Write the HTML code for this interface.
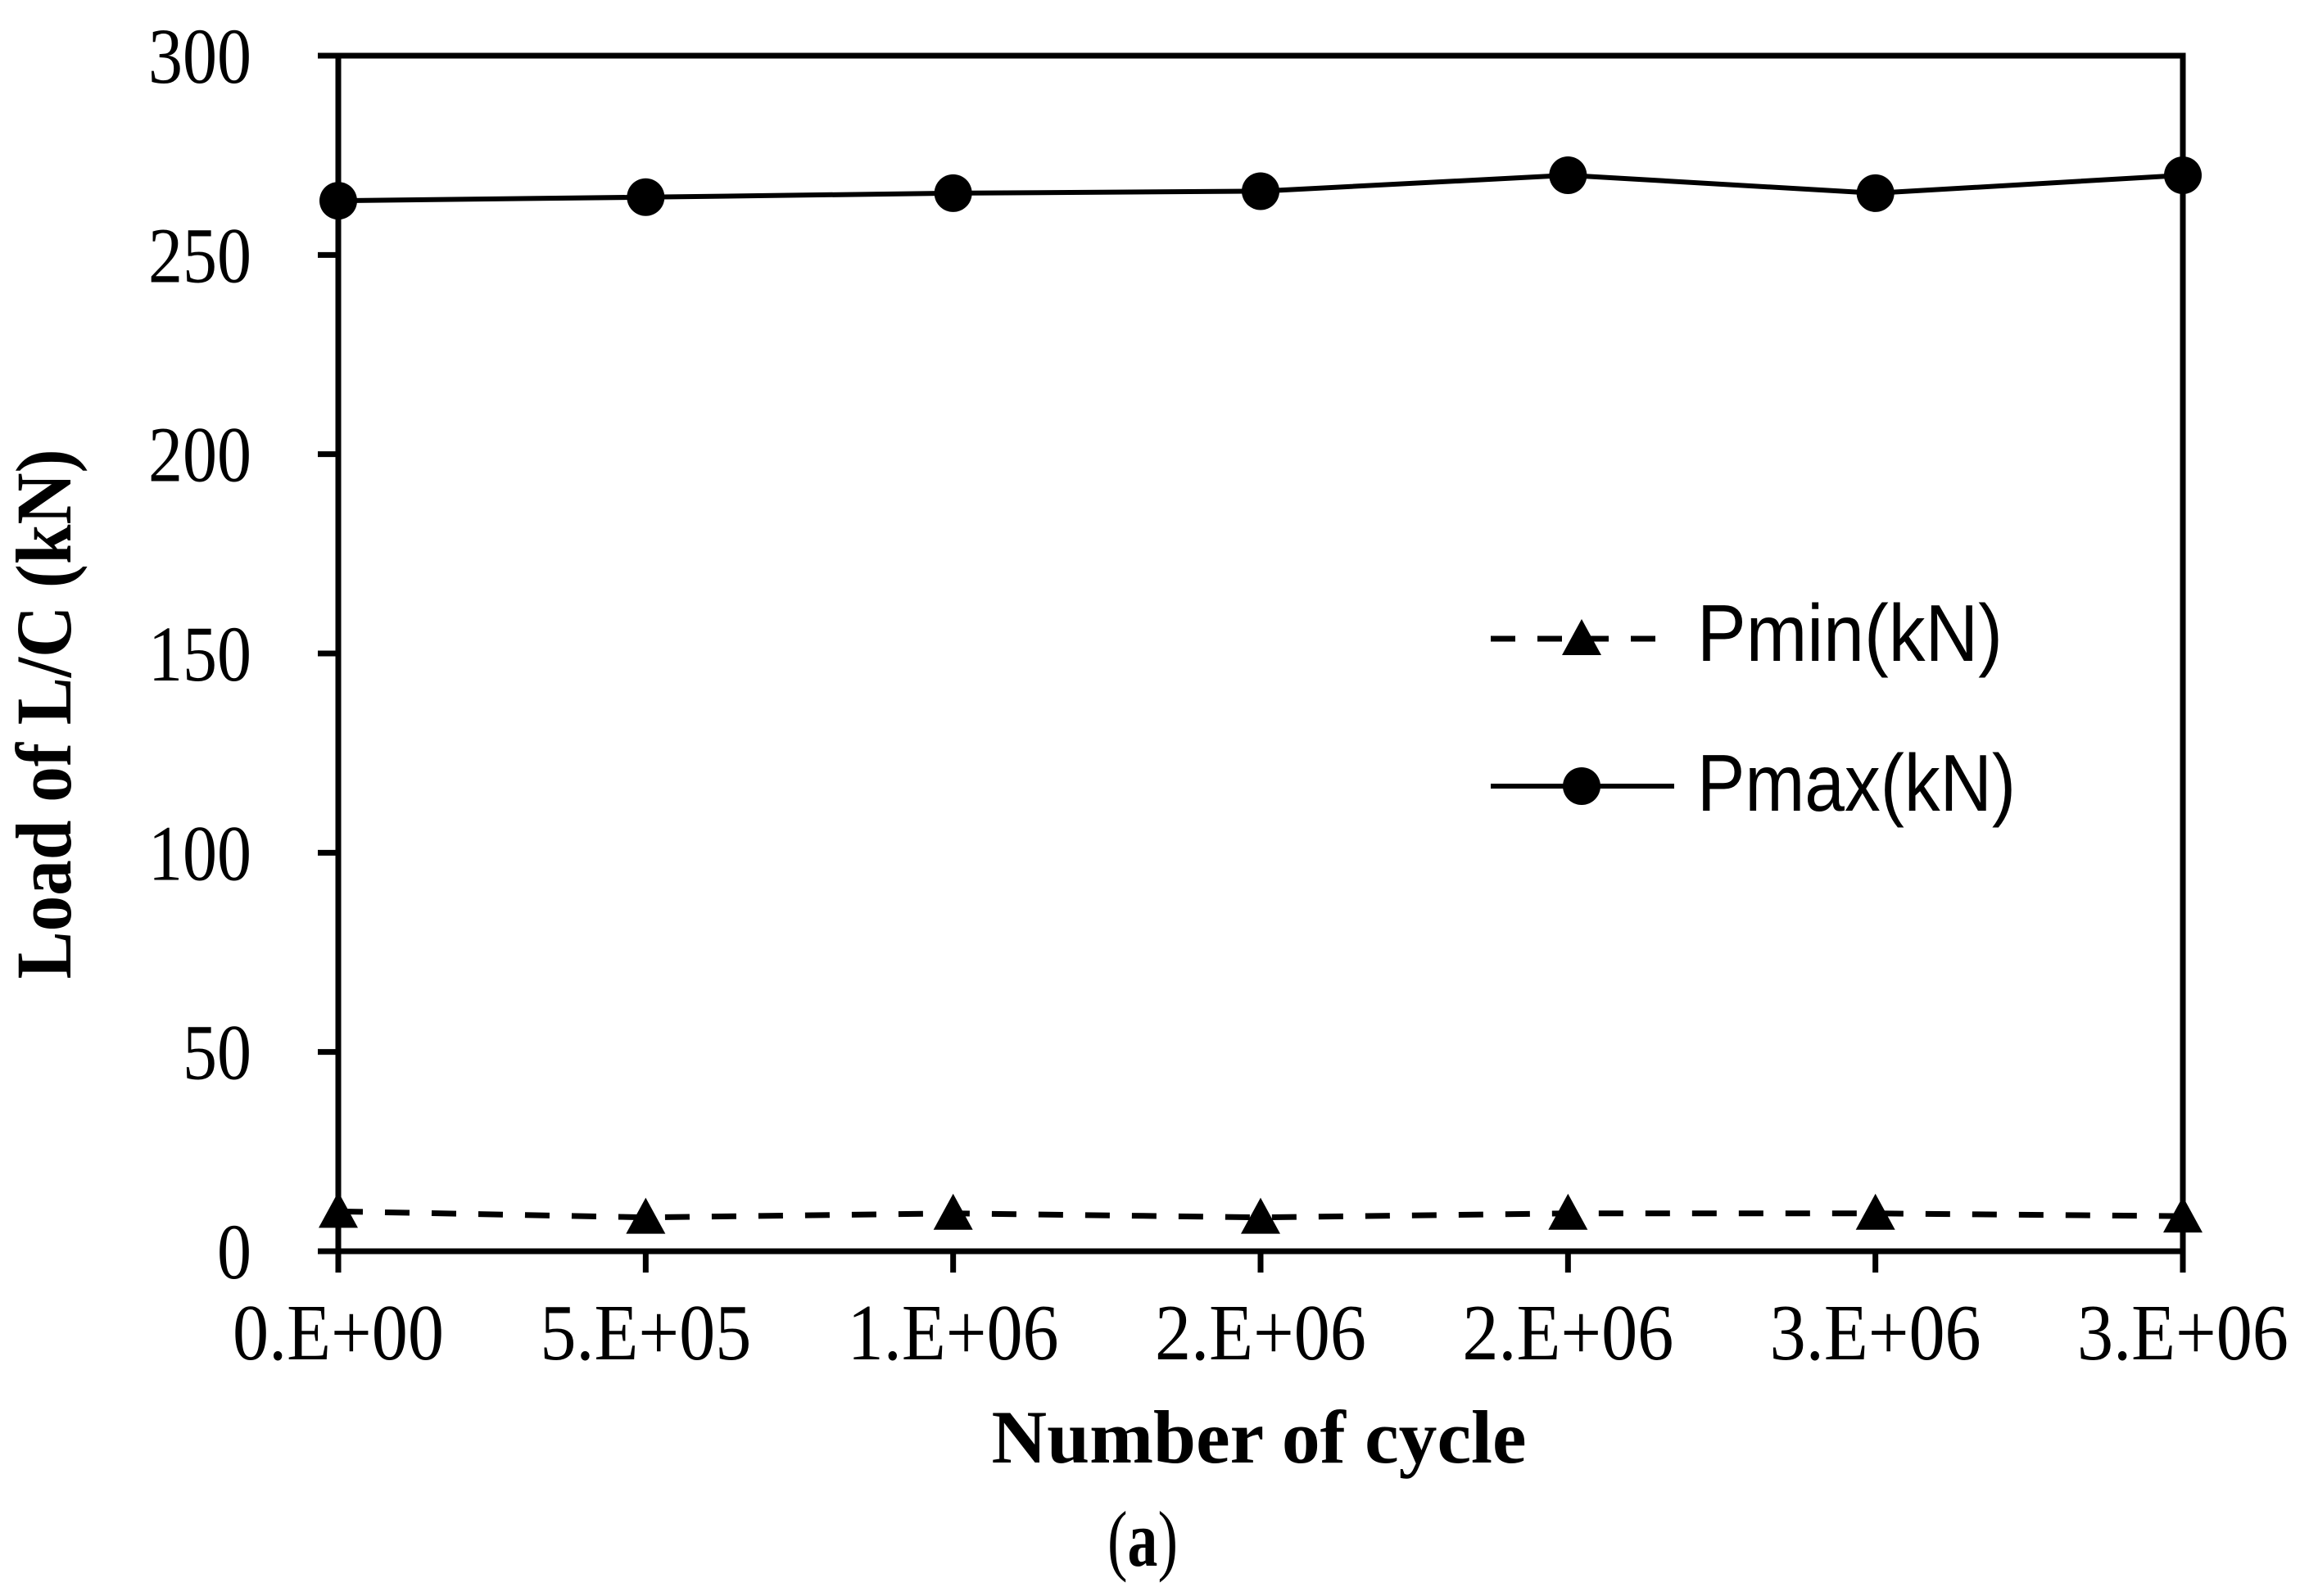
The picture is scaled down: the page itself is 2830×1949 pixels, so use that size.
<!DOCTYPE html>
<html><head><meta charset="utf-8"><style>
html,body{margin:0;padding:0;background:#fff;}
svg{display:block;}
</style></head><body>
<svg id="chart" width="2830" height="1949" viewBox="0 0 2830 1949" xmlns="http://www.w3.org/2000/svg">
<g id="axes"></g>
<g id="series"></g>
<text x="0" y="0" transform="translate(86,872) rotate(-90)" text-anchor="middle" font-family="Liberation Serif, serif" font-weight="bold" font-size="96" textLength="647" lengthAdjust="spacingAndGlyphs">Load of L/C (kN)</text>
<text x="1537" y="1786" text-anchor="middle" font-family="Liberation Serif, serif" font-weight="bold" font-size="92" textLength="653" lengthAdjust="spacingAndGlyphs">Number of cycle</text>
<text x="1395" y="1912" text-anchor="middle" font-family="Liberation Serif, serif" font-size="96" textLength="86" lengthAdjust="spacingAndGlyphs">(<tspan font-weight="bold">a</tspan>)</text>
<g>
<g>
<line x1="1820" y1="780" x2="2023" y2="780" stroke="#000" stroke-width="7" stroke-dasharray="30,27"/>
<polygon points="1931,756 1955,800 1907,800" fill="#000"/>
<text x="2072" y="807" font-family="Liberation Sans, sans-serif" font-size="98" textLength="373" lengthAdjust="spacingAndGlyphs">Pmin(kN)</text>
</g>
<g>
<line x1="1820" y1="960" x2="2044" y2="960" stroke="#000" stroke-width="6"/>
<circle cx="1931" cy="960" r="23" fill="#000"/>
<text x="2072" y="990" font-family="Liberation Sans, sans-serif" font-size="98" textLength="389" lengthAdjust="spacingAndGlyphs">Pmax(kN)</text>
</g>
</g>
</svg>
<script>
const xLabels = ["0.E+00","5.E+05","1.E+06","2.E+06","2.E+06","3.E+06","3.E+06"];
const yTicks = [0,50,100,150,200,250,300];
const pmin = [10,8.5,9.5,8.5,9.5,9.5,8.8];
const pmax = [263.6,264.5,265.5,266,270,265.5,270];

const NS="http://www.w3.org/2000/svg";
const X0=413,X1=2665,Y0=1528,Y1=68;
function xs(i){return X0+(X1-X0)*i/(xLabels.length-1);}
function ys(v){return Y0-(Y0-Y1)*v/300;}
function mk(tag,attrs,parent){const e=document.createElementNS(NS,tag);for(const k in attrs)e.setAttribute(k,attrs[k]);parent.appendChild(e);return e;}
const axes=document.getElementById('axes');
const series=document.getElementById('series');

let frame=mk('rect',{x:X0,y:Y1,width:X1-X0,height:Y0-Y1,fill:'none',stroke:'#000','stroke-width':7},axes);


let xl=mk('line',{x1:X0-25,y1:Y0,x2:X1,y2:Y0,stroke:'#000','stroke-width':7},axes);



yTicks.forEach(v=>{
  const t=mk('line',{x1:X0-25,y1:ys(v),x2:X0,y2:ys(v),stroke:'#000','stroke-width':7},axes);
  
  
  const s=String(v);
  const l=mk('text',{x:307,y:ys(v)+33,'text-anchor':'end','font-family':'Liberation Serif, serif','font-size':96,textLength:s.length*42,lengthAdjust:'spacingAndGlyphs'},axes);
  l.textContent=s;
  
  
});
xLabels.forEach((s,i)=>{
  const t=mk('line',{x1:xs(i),y1:Y0,x2:xs(i),y2:Y0+26,stroke:'#000','stroke-width':7},axes);
  
  
  const l=mk('text',{x:xs(i),y:1660,'text-anchor':'middle','font-family':'Liberation Serif, serif','font-size':98,textLength:258,lengthAdjust:'spacingAndGlyphs'},axes);
  l.textContent=s;
  
  
});

const pminLine=mk('polyline',{points:pmin.map((v,i)=>xs(i)+','+ys(v)).join(' '),fill:'none',stroke:'#000','stroke-width':7,'stroke-dasharray':'30,27'},series);


const pmaxLine=mk('polyline',{points:pmax.map((v,i)=>xs(i)+','+ys(v)).join(' '),fill:'none',stroke:'#000','stroke-width':6},series);


pmin.forEach((v,i)=>{
  const x=xs(i),y=ys(v);
  const p=mk('polygon',{points:`${x},${y-24} ${x+24},${y+20} ${x-24},${y+20}`,fill:'#000'},series);
  
  
});
pmax.forEach((v,i)=>{
  const c=mk('circle',{cx:xs(i),cy:ys(v),r:23,fill:'#000'},series);
  
  
});
</script>
</body></html>
